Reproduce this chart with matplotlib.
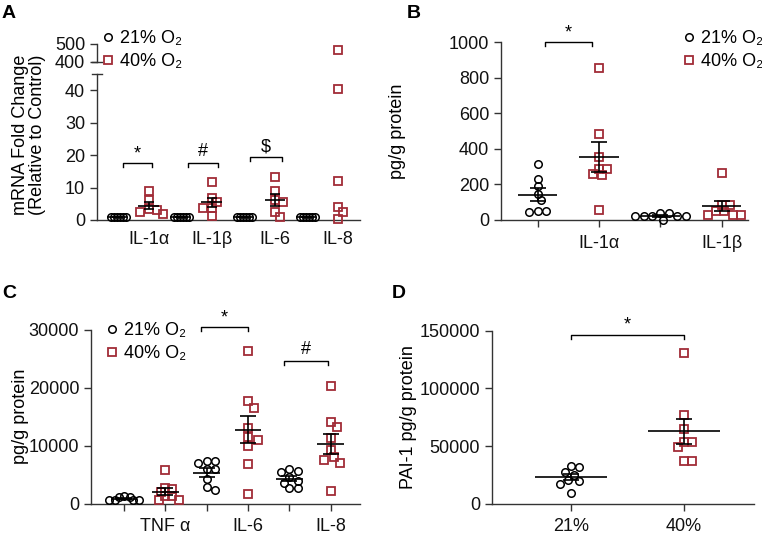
import matplotlib
matplotlib.use('Agg')
import matplotlib.pyplot as plt
import numpy as np

plt.rcParams['font.family'] = ['Liberation Sans', 'DejaVu Sans']
plt.rcParams['font.size'] = 13
plt.rcParams['axes.linewidth'] = 1.0
plt.rcParams['xtick.major.width'] = 1.0
plt.rcParams['ytick.major.width'] = 1.0

W, H = 762, 537
RED = '#a12c37'
AX = '#333333'

# --- data ---
# A: mRNA fold change
a_genes = ['IL-1α', 'IL-1β', 'IL-6', 'IL-8']
a_21 = [[1.0, 0.95, 1.05, 1.0, 0.98, 1.02],
        [1.0, 0.95, 1.05, 1.0, 0.98, 1.02],
        [1.0, 0.95, 1.05, 1.0, 0.98, 1.02],
        [1.0, 0.95, 1.05, 1.0, 0.98, 1.02]]
a_40 = [[8.8, 6.2, 3.4, 3.2, 2.6, 1.8],
        [11.7, 6.9, 5.4, 3.7, 3.7, 1.2],
        [13.1, 8.9, 6.2, 5.4, 2.6, 0.9],
        [467, 40.3, 12.0, 4.0, 2.6, 0.3]]

# B: IL-1 protein
b_cyt = ['IL-1α', 'IL-1β']
b_21 = [[316, 229, 188, 147, 109, 49, 43, 47],
        [19, 19, 38, 0, 38, 19, 19, 19]]
b_40 = [[857, 481, 353, 288, 288, 258, 250, 53],
        [261, 85, 85, 47, 28, 24, 24, 47]]

# C: TNF / IL-6 / IL-8 protein
c_cyt = ['TNF α', 'IL-6', 'IL-8']
c_21 = [[1300, 1200, 700, 650, 650, 700, 1250],
        [7340, 7340, 7050, 6020, 6020, 4300, 2400, 2900],
        [6000, 5700, 5500, 4600, 4000, 3600, 2800, 2700]]
c_40 = [[5800, 2750, 2500, 2000, 1300, 1300, 750, 750],
        [26400, 17800, 16600, 13100, 11600, 11000, 10000, 6940, 1780],
        [20360, 14100, 13200, 11400, 9350, 8030, 7630, 7060, 2300]]

# D: PAI-1
d_groups = ['21%', '40%']
d_21 = [33200, 31700, 27700, 25400, 20800, 20200, 17300, 9200]
d_40 = [130700, 77000, 64600, 53700, 53700, 49300, 37500, 37500]

fig = plt.figure(figsize=(W / 100, H / 100), dpi=100)


def add_ax(l, t, r, b):
    ax = fig.add_axes([l / W, 1 - b / H, (r - l) / W, (b - t) / H])
    ax.spines[['top', 'right']].set_visible(False)
    ax.spines[:].set_color(AX)
    ax.tick_params(colors=AX, labelcolor='#111111', length=5, labelsize=13)
    return ax


def swarm(ax, x0, vals, gap=7.0):
    # spread points sideways (in pixels) so markers do not overlap
    vals = np.asarray(vals, float)
    py = ax.transData.transform(np.column_stack([np.full(len(vals), x0), vals]))[:, 1]
    ppx = ax.transData.transform((1, 0))[0] - ax.transData.transform((0, 0))[0]
    placed, offs = [], np.zeros(len(vals))
    step = gap / 2.5
    cands = [0] + [s * k * step for k in range(1, 60) for s in (1, -1)]
    for i in np.argsort(-vals):
        for dx in cands:
            if all((dx - qx) ** 2 + (py[i] - qy) ** 2 >= gap ** 2 for qx, qy in placed):
                break
        placed.append((dx, py[i]))
        offs[i] = dx
    return x0 + offs / ppx


def group(ax, x0, vals, kind, gap=7.0, stats=True, cap=6):
    xs = swarm(ax, x0, vals, gap)
    if kind == 'o':
        h, = ax.plot(xs, vals, 'o', ls='none', mfc='none', mec='black', ms=5.4, mew=1.1,
                     label='21% O₂', clip_on=False, zorder=3)
    else:
        h, = ax.plot(xs, vals, 's', ls='none', mfc='none', mec=RED, ms=5.8, mew=1.3,
                     label='40% O₂', clip_on=False, zorder=3)
    if stats:
        v = np.asarray(vals, float)
        m = v.mean()
        sem = v.std(ddof=1) / np.sqrt(len(v))
        ax.hlines(m, x0 - 0.32, x0 + 0.32, color='black', lw=1.2, zorder=4)
        ax.errorbar(x0, m, yerr=sem, fmt='none', ecolor='black', elinewidth=1.2,
                    capsize=cap, capthick=1.2, zorder=4)
    return h


def bracket(ax, x1, x2, y, tip, label, dy):
    ax.plot([x1, x1, x2, x2], [y - tip, y, y, y - tip], color='black', lw=1, clip_on=False)
    ax.text((x1 + x2) / 2, y + dy, label, ha='center', va='center', fontsize=13)


LEG = dict(loc='upper left', frameon=False, fontsize=13, handlelength=0.6,
           handletextpad=0.35, labelspacing=0.33, borderpad=0, borderaxespad=0)

# ---------------- A ----------------
axA = add_ax(97, 74, 360, 220)
axA.set_xlim(-0.635, 7.71)
axA.set_ylim(0, 45)
axA.set_yticks([0, 10, 20, 30, 40])
axA.set_xticks([1, 3, 5, 7])
axA.set_xticklabels(a_genes)
axA.tick_params(axis='x', length=0, pad=8)
axA.plot([-0.02, 0.02], [1, 1], transform=axA.transAxes, color=AX, lw=1, clip_on=False)

axA2 = add_ax(97, 44, 360, 62)
axA2.set_xlim(-0.635, 7.71)
axA2.set_ylim(400, 500)
axA2.set_yticks([400, 500])
axA2.spines['bottom'].set_visible(False)
axA2.tick_params(axis='x', bottom=False, labelbottom=False)
axA2.patch.set_alpha(0)
axA2.plot([-0.02, 0.02], [0, 0], transform=axA2.transAxes, color=AX, lw=1, clip_on=False)

for i in range(4):
    hA1 = group(axA, 2 * i, a_21[i], 'o', gap=2.4, cap=3.5)
    v40 = np.asarray(a_40[i])
    lo = v40[v40 < 45]
    hi = v40[v40 >= 45]
    hA2 = group(axA, 2 * i + 1, lo, 's', stats=False)
    if len(hi):
        group(axA2, 2 * i + 1, hi, 's', stats=False)
    if i < 3:
        m = v40.mean()
        sem = v40.std(ddof=1) / np.sqrt(len(v40))
        axA.hlines(m, 2 * i + 1 - 0.32, 2 * i + 1 + 0.32, color='black', lw=1.2, zorder=4)
        axA.errorbar(2 * i + 1, m, yerr=sem, fmt='none', ecolor='black', elinewidth=1.2,
                     capsize=3.5, capthick=1.2, zorder=4)

bracket(axA, 0.18, 1.1, 17.7, 1.3, '*', 2.6)
bracket(axA, 2.24, 3.21, 17.7, 1.3, '#', 3.3)
bracket(axA, 4.22, 5.23, 19.4, 1.3, '$', 3.1)
fig.text(29 / W, 1 - 135 / H, 'mRNA Fold Change\n(Relative to Control)', rotation=90,
         ha='center', va='center', fontsize=13, linespacing=1.05)
fig.legend(handles=[hA1, hA2], bbox_to_anchor=(103 / W, 1 - 30 / H), **LEG)

# ---------------- B ----------------
axB = add_ax(501, 42.3, 748, 219.7)
axB.set_xlim(-0.6, 3.43)
axB.set_ylim(0, 1000)
axB.set_yticks(range(0, 1001, 200))
axB.set_xticks([0, 1, 2, 3])
axB.set_xticklabels(['', b_cyt[0], '', b_cyt[1]])
axB.tick_params(axis='x', pad=6)
for i in range(2):
    hB1 = group(axB, 2 * i, b_21[i], 'o')
    hB2 = group(axB, 2 * i + 1, b_40[i], 's')
bracket(axB, 0.11, 0.88, 1004, 23, '*', 50)
fig.text(397 / W, 1 - 131 / H, 'pg/g protein', rotation=90, ha='center', va='center',
         fontsize=13)
fig.legend(handles=[hB1, hB2], bbox_to_anchor=(684 / W, 1 - 30 / H), **LEG)

# ---------------- C ----------------
axC = add_ax(91, 329.7, 360, 504)
axC.set_xlim(-0.8, 5.71)
axC.set_ylim(0, 30000)
axC.set_yticks(range(0, 30001, 10000))
axC.set_xticks(range(6))
axC.set_xticklabels(['', c_cyt[0], '', c_cyt[1], '', c_cyt[2]])
axC.tick_params(axis='x', pad=5)
for i in range(3):
    g = 4.6 if i == 0 else 7.0
    hC1 = group(axC, 2 * i, c_21[i], 'o', gap=g)
    hC2 = group(axC, 2 * i + 1, c_40[i], 's', gap=g + 1)
bracket(axC, 1.86, 3.0, 30400, 600, '*', 1700)
bracket(axC, 3.88, 4.94, 24550, 700, '#', 2000)
fig.text(21 / W, 1 - 416 / H, 'pg/g protein', rotation=90, ha='center', va='center',
         fontsize=13)
fig.legend(handles=[hC1, hC2], bbox_to_anchor=(107 / W, 1 - 322 / H), **LEG)

# ---------------- D ----------------
axD = add_ax(492, 330.7, 754, 504)
axD.set_xlim(-0.70, 1.62)
axD.set_ylim(0, 150000)
axD.set_yticks(range(0, 150001, 50000))
axD.set_xticks([0, 1])
axD.set_xticklabels(d_groups)
axD.tick_params(axis='x', pad=5)
group(axD, 0, d_21, 'o')
group(axD, 1, d_40, 's')
bracket(axD, 0, 1, 146500, 3400, '*', 8500)
fig.text(408 / W, 1 - 417 / H, 'PAI-1 pg/g protein', rotation=90, ha='center', va='center',
         fontsize=13)

# panel letters
for lab, x, y in [('A', 9, 14), ('B', 414, 14), ('C', 9, 294), ('D', 399, 294)]:
    fig.text(x / W, 1 - y / H, lab, ha='center', va='center', fontsize=14, fontweight='bold')

fig.savefig('out.png', dpi=100)
